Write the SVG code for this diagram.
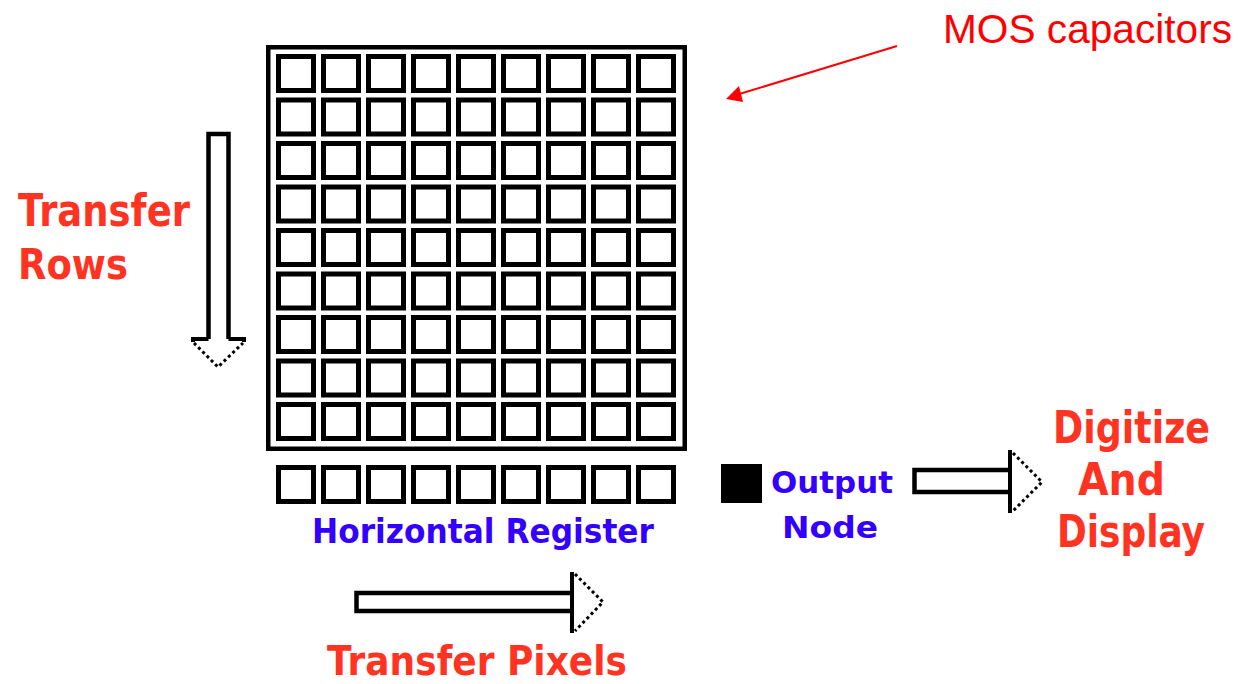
<svg xmlns="http://www.w3.org/2000/svg" width="1238" height="684" viewBox="0 0 1238 684">
<style>
.cell{fill:#fff;stroke:#000;stroke-width:5}
.frame{fill:none;stroke:#000;stroke-width:4.5}
.shaft{fill:#fff;stroke:#000;stroke-width:4.5;stroke-linejoin:miter}
.solid{fill:none;stroke:#000;stroke-width:4}
.dots{fill:none;stroke:#000;stroke-width:3;stroke-dasharray:3 3}
.bm{font-family:"DejaVu Sans",Verdana,sans-serif;font-weight:bold}
.red{fill:#ff3322}
.blue{fill:#3300ff}
</style>
<defs>
<rect id="c" class="cell" x="0" y="0" width="35" height="34"/>
<g id="row">
<use href="#c" x="0"/><use href="#c" x="45"/><use href="#c" x="90"/><use href="#c" x="135"/><use href="#c" x="180"/><use href="#c" x="225"/><use href="#c" x="270"/><use href="#c" x="315"/><use href="#c" x="360"/>
</g>
</defs>
<g id="ccd-array">
<rect class="frame" x="268.25" y="47.25" width="416.5" height="401.5"/>
<use href="#row" x="278.5" y="56.5"/>
<use href="#row" x="278.5" y="100"/>
<use href="#row" x="278.5" y="143.5"/>
<use href="#row" x="278.5" y="187"/>
<use href="#row" x="278.5" y="230.5"/>
<use href="#row" x="278.5" y="274"/>
<use href="#row" x="278.5" y="317.5"/>
<use href="#row" x="278.5" y="361"/>
<use href="#row" x="278.5" y="404.5"/>
</g>
<g id="horizontal-register">
<use href="#row" x="278.5" y="467.5"/>
<text class="bm blue" transform="translate(312,543) scale(0.92,1)" font-size="34" textLength="371.7" lengthAdjust="spacingAndGlyphs">Horizontal Register</text>
</g>
<g id="output-node">
<rect x="721" y="464" width="41" height="39" fill="#000"/>
<text class="bm blue" transform="translate(771,493) scale(1.03,1)" font-size="30" textLength="118.4" lengthAdjust="spacingAndGlyphs">Output</text>
<text class="bm blue" transform="translate(782,538) scale(1.097,1)" font-size="30" textLength="87.5" lengthAdjust="spacingAndGlyphs">Node</text>
</g>
<g id="transfer-rows">
<text class="bm red" transform="translate(18,226) scale(0.802,1)" font-size="45" textLength="214.4" lengthAdjust="spacingAndGlyphs">Transfer</text>
<text class="bm red" transform="translate(18,279) scale(0.82,1)" font-size="43" textLength="134" lengthAdjust="spacingAndGlyphs">Rows</text>
</g>
<g id="transfer-pixels">
<text class="bm red" transform="translate(327,675) scale(0.886,1)" font-size="40" textLength="338.6" lengthAdjust="spacingAndGlyphs">Transfer Pixels</text>
</g>
<g id="digitize-display">
<text class="bm red" transform="translate(1053,443) scale(0.809,1)" font-size="45" textLength="194.1" lengthAdjust="spacingAndGlyphs">Digitize</text>
<text class="bm red" transform="translate(1078,495) scale(0.878,1)" font-size="45" textLength="99.1" lengthAdjust="spacingAndGlyphs">And</text>
<text class="bm red" transform="translate(1057,547) scale(0.792,1)" font-size="45" textLength="186.9" lengthAdjust="spacingAndGlyphs">Display</text>
</g>
<g id="mos-label">
<text x="943" y="43" font-family="'Liberation Sans',Arial,sans-serif" font-size="40.5" fill="#ff0000" textLength="289" lengthAdjust="spacingAndGlyphs">MOS capacitors</text>
</g>
<g id="connectors">
<polyline class="shaft" points="208.5,339 208.5,134 228.5,134 228.5,339"/>
<polyline class="solid" points="208.5,339 193,339 193,342"/>
<polyline class="solid" points="228.5,339 244,339 244,342"/>
<polyline class="dots" points="194,343 218,367 243,343"/>
<polyline class="shaft" points="572,593 356.5,593 356.5,611 572,611"/>
<line class="solid" x1="572" y1="572" x2="572" y2="633"/>
<polyline class="dots" points="575,574 603,602 575,631"/>
<polyline class="shaft" points="1010,470 914.5,470 914.5,492 1010,492"/>
<line class="solid" x1="1010" y1="450" x2="1010" y2="513"/>
<polyline class="dots" points="1013,453 1042,482 1013,511"/>
<line x1="897" y1="46" x2="736" y2="95" stroke="#ff0000" stroke-width="2"/>
<polygon points="726,99 739,86 743,102" fill="#ff0000"/>
</g>
</svg>
